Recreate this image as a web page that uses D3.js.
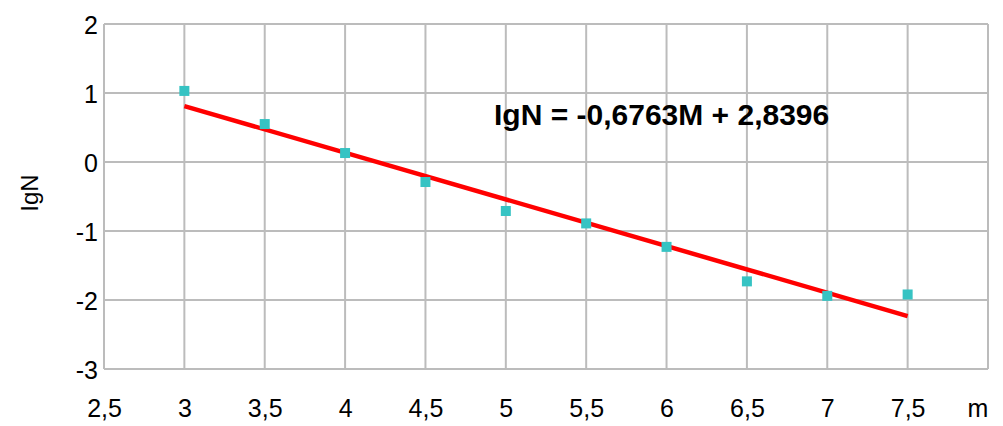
<!DOCTYPE html>
<html><head><meta charset="utf-8">
<script src="https://cdn.jsdelivr.net/npm/d3@7"></script>
<style>body{margin:0;background:#fff}svg{display:block}text{font-family:"Liberation Sans",Arial,sans-serif}</style>
</head><body>
<script>
const magnitudes = [3, 3.5, 4, 4.5, 5, 5.5, 6, 6.5, 7, 7.5];
const lgN = [1.03, 0.55, 0.13, -0.29, -0.71, -0.89, -1.23, -1.73, -1.94, -1.92];
const xTicks = [2.5, 3, 3.5, 4, 4.5, 5, 5.5, 6, 6.5, 7, 7.5, 8];
const xTickLabels = ["2,5", "3", "3,5", "4", "4,5", "5", "5,5", "6", "6,5", "7", "7,5", ""];
const yTicks = [2, 1, 0, -1, -2, -3];
const yTickLabels = ["2", "1", "0", "-1", "-2", "-3"];
const trendSlope = -0.6763, trendIntercept = 2.8396;
const equationText = "IgN = -0,6763M + 2,8396";

const W = 1003, H = 426;
const svg = d3.select("body").append("svg").attr("width", W).attr("height", H);
const m = {l: 104, r: 15, t: 24, b: 57};
const x = d3.scaleLinear().domain([2.5, 8]).range([m.l, W - m.r]);
const y = d3.scaleLinear().domain([-3, 2]).range([H - m.b, m.t]);
const grid = "#bcbcbc";

// grid
svg.append("g").selectAll("line").data(xTicks).join("line")
  .attr("x1", d => x(d)).attr("x2", d => x(d)).attr("y1", y(2)).attr("y2", y(-3))
  .attr("stroke", grid).attr("stroke-width", 2);
svg.append("g").selectAll("line").data(yTicks).join("line")
  .attr("x1", x(2.5)).attr("x2", x(8)).attr("y1", d => y(d)).attr("y2", d => y(d))
  .attr("stroke", grid).attr("stroke-width", 2);

// axes
const xAxis = d3.axisBottom(x).tickValues(xTicks).tickSize(0).tickPadding(0)
  .tickFormat((d, i) => xTickLabels[i]);
const gx = svg.append("g").attr("transform", `translate(0,${y(-3)})`).call(xAxis);
gx.select(".domain").remove();
gx.selectAll("text").attr("font-size", 25).attr("fill", "#000").attr("dy", null).attr("y", 48);

const yAxis = d3.axisLeft(y).tickValues(yTicks).tickSize(0).tickPadding(6)
  .tickFormat((d, i) => yTickLabels[i]);
const gy = svg.append("g").attr("transform", `translate(${x(2.5)},0)`).call(yAxis);
gy.select(".domain").remove();
gy.selectAll("text").attr("font-size", 25).attr("fill", "#000").attr("dy", "0.36em");

svg.append("text").attr("x", 978).attr("y", 417).attr("text-anchor", "middle")
  .attr("font-size", 25).text("m");
svg.append("text").attr("transform", `translate(38,193) rotate(-90)`)
  .attr("text-anchor", "middle").attr("font-size", 24).text("IgN");

// trend line
const xs = [magnitudes[0], magnitudes[magnitudes.length - 1]];
svg.append("line")
  .attr("x1", x(xs[0])).attr("y1", y(trendSlope * xs[0] + trendIntercept))
  .attr("x2", x(xs[1])).attr("y2", y(trendSlope * xs[1] + trendIntercept))
  .attr("stroke", "#ff0000").attr("stroke-width", 4.5);

// points
svg.append("g").selectAll("rect").data(magnitudes).join("rect")
  .attr("x", d => x(d) - 5).attr("y", (d, i) => y(lgN[i]) - 5)
  .attr("width", 10).attr("height", 10).attr("fill", "#36c3c3");

svg.append("text").attr("x", 494).attr("y", 125).attr("font-size", 30)
  .attr("font-weight", "bold").attr("fill", "#000").text(equationText);
</script>
</body></html>
